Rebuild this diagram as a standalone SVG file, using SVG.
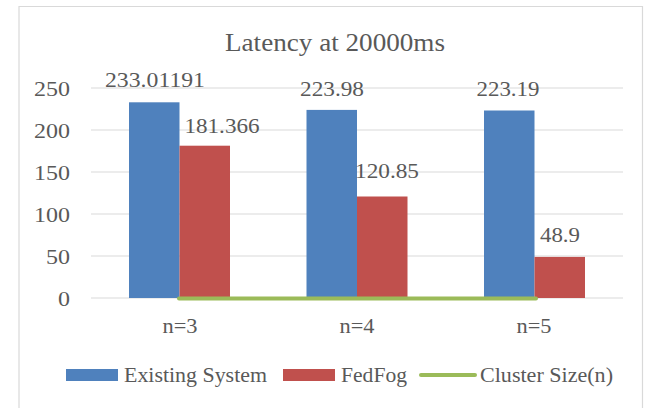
<svg xmlns="http://www.w3.org/2000/svg" width="654" height="408" viewBox="0 0 654 408">
  <style>
    text { font-family: "Liberation Serif", "DejaVu Serif", serif; fill: #595959; }
    .title { font-size: 25px; }
    .lbl { font-size: 21px; }
    .grid { stroke: #d9d9d9; stroke-width: 1.2; }
    .blue { fill: #4f81bd; }
    .red { fill: #c0504d; }
  </style>
  <rect x="0" y="0" width="654" height="408" fill="#ffffff"/>
  <!-- chart frame -->
  <path d="M19 410 V6.5 H642.5 V410" fill="none" stroke="#d9d9d9" stroke-width="1.2"/>

  <text class="title" x="335" y="51" text-anchor="middle" textLength="220" lengthAdjust="spacingAndGlyphs">Latency at 20000ms</text>

  <!-- gridlines -->
  <g id="grid">
    <line class="grid" x1="91" y1="88" x2="623" y2="88"/>
    <line class="grid" x1="91" y1="130" x2="623" y2="130"/>
    <line class="grid" x1="91" y1="172" x2="623" y2="172"/>
    <line class="grid" x1="91" y1="214" x2="623" y2="214"/>
    <line class="grid" x1="91" y1="256" x2="623" y2="256"/>
    <line class="grid" x1="91" y1="298" x2="623" y2="298"/>
  </g>

  <!-- y axis labels -->
  <g id="y-axis">
    <text class="lbl" x="70" y="96" text-anchor="end" textLength="36" lengthAdjust="spacingAndGlyphs">250</text>
    <text class="lbl" x="70" y="138" text-anchor="end" textLength="36" lengthAdjust="spacingAndGlyphs">200</text>
    <text class="lbl" x="70" y="180" text-anchor="end" textLength="36" lengthAdjust="spacingAndGlyphs">150</text>
    <text class="lbl" x="70" y="222" text-anchor="end" textLength="36" lengthAdjust="spacingAndGlyphs">100</text>
    <text class="lbl" x="70" y="264" text-anchor="end" textLength="24" lengthAdjust="spacingAndGlyphs">50</text>
    <text class="lbl" x="70" y="306" text-anchor="end" textLength="12" lengthAdjust="spacingAndGlyphs">0</text>
  </g>

  <!-- bars -->
  <g id="bars-existing">
    <rect class="blue" x="129" y="102.3" width="50.5" height="195.7"/>
    <rect class="blue" x="306.5" y="109.9" width="50.5" height="188.1"/>
    <rect class="blue" x="484" y="110.5" width="50.5" height="187.5"/>
  </g>
  <g id="bars-fedfog">
    <rect class="red" x="179.5" y="145.7" width="50.5" height="152.3"/>
    <rect class="red" x="357" y="196.5" width="50.5" height="101.5"/>
    <rect class="red" x="534.5" y="256.9" width="50.5" height="41.1"/>
  </g>

  <!-- cluster size series -->
  <g id="connectors">
    <line x1="179" y1="298.5" x2="536" y2="298.5" stroke="#9bbb59" stroke-width="4" stroke-linecap="round"/>
  </g>

  <!-- data labels -->
  <g id="data-labels">
    <text class="lbl" x="155" y="87" text-anchor="middle" textLength="100" lengthAdjust="spacingAndGlyphs">233.01191</text>
    <text class="lbl" x="222" y="133" text-anchor="middle" textLength="75" lengthAdjust="spacingAndGlyphs">181.366</text>
    <text class="lbl" x="332" y="96" text-anchor="middle" textLength="64" lengthAdjust="spacingAndGlyphs">223.98</text>
    <text class="lbl" x="387" y="178" text-anchor="middle" textLength="64" lengthAdjust="spacingAndGlyphs">120.85</text>
    <text class="lbl" x="508" y="96" text-anchor="middle" textLength="63" lengthAdjust="spacingAndGlyphs">223.19</text>
    <text class="lbl" x="560" y="242" text-anchor="middle" textLength="40" lengthAdjust="spacingAndGlyphs">48.9</text>
  </g>

  <!-- category labels -->
  <g id="x-axis">
    <text class="lbl" x="180" y="333" text-anchor="middle" textLength="35" lengthAdjust="spacingAndGlyphs">n=3</text>
    <text class="lbl" x="357" y="333" text-anchor="middle" textLength="35" lengthAdjust="spacingAndGlyphs">n=4</text>
    <text class="lbl" x="534" y="333" text-anchor="middle" textLength="35" lengthAdjust="spacingAndGlyphs">n=5</text>
  </g>

  <!-- legend -->
  <g id="legend">
    <rect class="blue" x="66" y="369" width="52" height="12"/>
    <text class="lbl" x="124" y="382" textLength="143" lengthAdjust="spacingAndGlyphs">Existing System</text>
    <rect class="red" x="283" y="369" width="52" height="12"/>
    <text class="lbl" x="341" y="382" textLength="66" lengthAdjust="spacingAndGlyphs">FedFog</text>
    <line x1="421" y1="375" x2="475" y2="375" stroke="#9bbb59" stroke-width="4" stroke-linecap="round"/>
    <text class="lbl" x="480" y="382" textLength="133" lengthAdjust="spacingAndGlyphs">Cluster Size(n)</text>
  </g>
</svg>
